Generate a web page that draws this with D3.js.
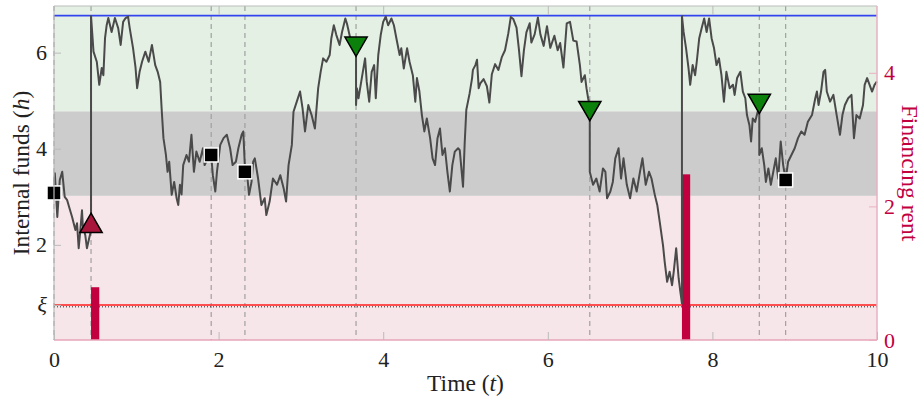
<!DOCTYPE html>
<html>
<head>
<meta charset="utf-8">
<script src="https://cdn.jsdelivr.net/npm/d3@7"></script>
<style>
  body { margin: 0; background: #fff; }
  svg text { font-family: "Liberation Serif", "DejaVu Serif", serif; }
</style>
</head>
<body>
<svg id="chart" width="923" height="402"></svg>
<script>
// simulated internal funds h(t) as [t, h]
const fundsPath = [
  [0,3.10],[0.01,3.49],[0.04,2.58],[0.07,3.35],[0.10,3.52],[0.13,3.00],[0.16,2.93],[0.19,2.75],[0.22,2.58],
  [0.26,2.31],[0.28,2.45],[0.30,1.93],[0.32,2.30],[0.34,2.72],[0.35,2.40],[0.38,2.20],[0.40,1.93],[0.43,2.16],[0.45,2.30],
  [0.45,6.76],[0.48,6.02],[0.52,5.81],[0.55,5.33],[0.58,5.68],[0.60,5.53],[0.62,6.30],[0.64,6.57],[0.66,6.72],
  [0.70,6.43],[0.74,6.72],[0.78,6.51],[0.81,6.16],[0.84,6.64],[0.87,6.72],[0.90,6.75],[0.92,6.51],[0.96,6.10],
  [0.99,5.70],[1.01,5.26],[1.04,5.60],[1.07,5.81],[1.11,6.02],[1.15,5.81],[1.19,6.16],[1.23,5.74],[1.26,5.60],
  [1.29,5.39],[1.31,4.77],[1.33,4.22],[1.36,3.87],[1.38,3.52],[1.40,3.73],[1.43,3.04],[1.46,3.31],[1.49,2.97],
  [1.51,2.83],[1.53,3.25],[1.55,3.05],[1.57,3.66],[1.61,3.87],[1.64,3.73],[1.67,4.29],[1.70,3.52],[1.73,3.94],
  [1.77,3.73],[1.81,4.01],[1.83,3.66],[1.87,3.80],[1.91,3.87],[1.93,3.45],[1.96,3.11],[1.98,3.52],[2.02,4.08],
  [2.06,4.22],[2.10,4.29],[2.14,4.01],[2.17,3.66],[2.21,3.73],[2.24,4.01],[2.28,4.29],[2.30,4.36],[2.32,3.60],
  [2.35,3.40],[2.37,3.04],[2.40,3.31],[2.42,3.73],[2.44,3.80],[2.48,3.38],[2.52,2.83],[2.56,2.97],[2.58,2.62],
  [2.62,2.90],[2.66,3.38],[2.71,3.25],[2.75,3.45],[2.79,3.18],[2.82,2.90],[2.85,3.66],[2.89,4.08],[2.91,4.77],
  [2.95,4.98],[2.99,5.19],[3.02,4.84],[3.05,4.36],[3.09,4.91],[3.13,4.70],[3.17,4.42],[3.21,5.26],[3.24,5.60],
  [3.27,5.88],[3.31,5.81],[3.35,5.95],[3.37,6.30],[3.40,6.57],[3.43,6.37],[3.47,6.16],[3.50,6.43],[3.54,6.71],
  [3.56,6.60],[3.60,6.30],[3.64,6.09],[3.67,5.95],
  [3.67,4.91],[3.68,5.26],[3.70,5.05],[3.74,5.47],[3.78,5.88],[3.80,5.39],[3.83,4.98],[3.86,5.60],[3.89,5.74],
  [3.91,5.05],[3.94,5.95],[3.97,6.37],[4.00,6.64],[4.03,6.75],[4.06,6.57],[4.10,6.71],[4.13,6.57],[4.16,6.30],
  [4.20,5.95],[4.22,6.09],[4.25,5.67],[4.29,6.09],[4.32,5.81],[4.36,5.53],[4.39,4.98],[4.41,5.47],[4.44,5.19],
  [4.47,4.70],[4.50,4.36],[4.53,4.63],[4.57,4.22],[4.60,3.80],[4.63,3.66],[4.66,4.22],[4.69,4.42],[4.72,3.87],
  [4.75,4.01],[4.78,3.52],[4.81,3.11],[4.84,3.66],[4.87,3.94],[4.91,4.01],[4.93,3.97],[4.97,3.21],[4.99,4.11],
  [5.01,4.81],[5.03,4.98],[5.05,5.15],[5.08,5.47],[5.09,5.64],[5.12,5.74],[5.14,5.85],[5.16,5.26],[5.18,5.36],
  [5.22,5.45],[5.26,5.30],[5.29,4.96],[5.32,5.55],[5.36,5.76],[5.40,5.64],[5.44,5.90],[5.48,6.05],[5.52,6.40],
  [5.55,6.74],[5.58,6.70],[5.62,6.52],[5.65,6.05],[5.68,5.51],[5.71,6.05],[5.74,6.42],[5.78,6.61],[5.80,6.21],
  [5.84,6.38],[5.88,6.73],[5.91,6.38],[5.95,6.14],[5.99,6.55],[6.03,6.10],[6.08,6.35],[6.12,6.05],[6.15,6.20],
  [6.19,5.69],[6.23,6.61],[6.27,6.64],[6.31,6.25],[6.35,6.23],[6.39,5.74],[6.41,5.39],[6.45,5.53],[6.47,5.26],
  [6.49,5.05],[6.51,4.88],
  [6.51,3.52],[6.55,3.25],[6.59,3.38],[6.63,3.11],[6.67,3.59],[6.70,3.52],[6.72,2.97],[6.76,3.11],[6.79,3.31],
  [6.82,3.80],[6.86,4.01],[6.89,3.38],[6.92,3.80],[6.96,3.25],[7.00,2.97],[7.04,3.38],[7.08,3.11],[7.12,3.52],
  [7.15,3.80],[7.19,3.25],[7.23,3.52],[7.26,3.38],[7.30,3.04],[7.33,2.83],[7.36,2.48],[7.40,1.99],[7.42,1.65],
  [7.45,1.23],[7.48,1.44],[7.51,1.16],[7.53,1.44],[7.56,1.93],[7.59,1.30],[7.61,1.03],[7.63,0.78],
  [7.63,6.76],[7.65,6.43],[7.68,6.09],[7.71,5.67],[7.73,5.33],[7.76,5.74],[7.79,5.53],[7.81,5.81],[7.84,6.30],
  [7.87,6.51],[7.90,6.71],[7.93,6.43],[7.96,6.71],[7.99,6.30],[8.02,6.09],[8.05,5.74],[8.08,5.88],[8.11,5.53],
  [8.14,4.98],[8.17,5.60],[8.21,5.26],[8.25,5.33],[8.27,5.12],[8.30,5.47],[8.34,5.60],[8.37,5.19],[8.40,5.05],
  [8.42,4.70],[8.45,4.49],[8.47,4.15],[8.49,4.63],[8.52,4.56],[8.55,4.77],[8.57,4.80],
  [8.57,3.87],[8.60,4.01],[8.63,3.66],[8.65,3.31],[8.68,3.59],[8.71,3.25],[8.74,3.52],[8.77,3.80],[8.80,3.38],
  [8.83,4.15],[8.86,3.66],[8.89,3.35],[8.92,3.73],[8.96,3.87],[9.00,4.01],[9.04,4.22],[9.08,4.36],[9.12,4.29],
  [9.16,4.56],[9.21,4.70],[9.25,5.05],[9.27,5.19],[9.29,4.91],[9.32,5.19],[9.35,5.60],[9.37,5.64],[9.39,5.19],
  [9.43,4.98],[9.47,5.12],[9.51,4.70],[9.55,4.29],[9.58,4.70],[9.61,4.91],[9.65,5.05],[9.69,5.12],[9.72,4.22],
  [9.75,4.70],[9.79,4.63],[9.83,4.91],[9.85,5.33],[9.88,5.47],[9.91,5.33],[9.94,5.19],[9.97,5.33],[10,5.40]
];

// thresholds on internal funds
const xi = 0.75;
const xiLower = 0.71;
const lowBand = 3.02;     // pink below, grey above
const highBand = 4.78;    // grey below, green above
const payoutBarrier = 6.77;

// events
const dashedTimes = [0, 0.45, 1.91, 2.32, 3.67, 6.51, 8.57, 8.89];
const squareEvents = [[0, 3.08], [1.91, 3.87], [2.32, 3.52], [8.89, 3.35]];
const upEvents = [[0.45, 2.39]];
const downEvents = [[3.67, 6.19], [6.51, 4.85], [8.57, 5.0]];

// financing rent paid at refinancing
const rentTimes = [0.45, 7.63];
const rentValues = [0.79, 2.48];
const rentWidth = 0.1;

const xTicks = [0, 2, 4, 6, 8, 10];
const hTicks = [2, 4, 6];
const rentTicks = [0, 2, 4];

const svg = d3.select("#chart");
const pl = 54, pr = 877, pt = 6, pb = 340;
const crimson = "#c2003f";

const x = d3.scaleLinear().domain([0, 10]).range([pl, pr]);
const y = d3.scaleLinear().domain([0.02, 6.97]).range([pb, pt]);
const yR = d3.scaleLinear().domain([0, 5]).range([pb, pt]);

// background bands
const bands = [[y.domain()[0], lowBand, "#f6e6ea"], [lowBand, highBand, "#cccccc"], [highBand, y.domain()[1], "#e4f0e4"]];
svg.append("g").selectAll("rect").data(bands).join("rect")
  .attr("x", pl).attr("width", pr - pl)
  .attr("y", d => y(d[1])).attr("height", d => y(d[0]) - y(d[1]))
  .attr("fill", d => d[2]);

// dashed event lines
svg.append("g").selectAll("line").data(dashedTimes).join("line")
  .attr("x1", d => x(d)).attr("x2", d => x(d))
  .attr("y1", pt).attr("y2", pb)
  .attr("stroke", "#a0a0a0").attr("stroke-width", 1.2)
  .attr("stroke-dasharray", "5,4");

// xi lines
svg.append("line")
  .attr("x1", pl).attr("x2", pr).attr("y1", y(xiLower)).attr("y2", y(xiLower))
  .attr("stroke", "#222").attr("stroke-width", 1).attr("stroke-dasharray", "1,2");
svg.append("line")
  .attr("x1", pl).attr("x2", pr).attr("y1", y(xi)).attr("y2", y(xi))
  .attr("stroke", "#ff3535").attr("stroke-width", 2).attr("opacity", 0.85);

// payout barrier
svg.append("line")
  .attr("x1", pl).attr("x2", pr).attr("y1", y(payoutBarrier)).attr("y2", y(payoutBarrier))
  .attr("stroke", "#3344ee").attr("stroke-width", 1.6);

// rent bars
svg.append("g").selectAll("rect").data(rentTimes).join("rect")
  .attr("x", d => x(d)).attr("width", x(rentWidth) - x(0))
  .attr("y", (d, i) => yR(rentValues[i]))
  .attr("height", (d, i) => yR(0) - yR(rentValues[i]))
  .attr("fill", crimson);

// path
const line = d3.line().x(d => x(d[0])).y(d => y(d[1]));
svg.append("path").datum(fundsPath)
  .attr("d", line)
  .attr("fill", "none")
  .attr("stroke", "#4a4a4a")
  .attr("stroke-width", 2)
  .attr("stroke-linejoin", "round");

// markers
svg.append("g").selectAll("rect").data(squareEvents).join("rect")
  .attr("x", d => x(d[0]) - 7).attr("y", d => y(d[1]) - 7)
  .attr("width", 14).attr("height", 14)
  .attr("fill", "#000").attr("stroke", "#fff").attr("stroke-width", 1.5);

const tri = d3.symbol().type(d3.symbolTriangle).size(215);
svg.append("g").selectAll("path").data(upEvents).join("path")
  .attr("d", tri)
  .attr("transform", d => `translate(${x(d[0])},${y(d[1])})`)
  .attr("fill", "#a8173b").attr("stroke", "#000").attr("stroke-width", 1.5);
svg.append("g").selectAll("path").data(downEvents).join("path")
  .attr("d", tri)
  .attr("transform", d => `translate(${x(d[0])},${y(d[1])}) rotate(180)`)
  .attr("fill", "#0b800b").attr("stroke", "#000").attr("stroke-width", 1.5);

// frame
svg.append("line").attr("x1", pl).attr("x2", pr).attr("y1", pt).attr("y2", pt)
  .attr("stroke", "#bbbbbb").attr("stroke-width", 1.2);
svg.append("line").attr("x1", pl).attr("x2", pl).attr("y1", pt).attr("y2", pb)
  .attr("stroke", "#bbbbbb").attr("stroke-width", 1.2);
svg.append("line").attr("x1", pr).attr("x2", pr).attr("y1", pt).attr("y2", pb)
  .attr("stroke", "#eab0c2").attr("stroke-width", 1.5);
svg.append("line").attr("x1", pl).attr("x2", pr).attr("y1", pb).attr("y2", pb)
  .attr("stroke", "#e8a4b8").attr("stroke-width", 1.5);

// axes
const fontSize = "22px";
const gx = svg.append("g").attr("transform", `translate(0,${pb})`)
  .call(d3.axisBottom(x).tickValues(xTicks).tickSize(-8).tickPadding(11).tickFormat(d3.format("d")));
gx.selectAll("line").attr("stroke", "#bbbbbb");
const gxTop = svg.append("g").attr("transform", `translate(0,${pt})`)
  .call(d3.axisTop(x).tickValues(xTicks.slice(1, -1)).tickSize(-9).tickFormat(""));
gxTop.selectAll("line").attr("stroke", "#bbbbbb");

const gy = svg.append("g").attr("transform", `translate(${pl},0)`)
  .call(d3.axisLeft(y).tickValues([xi].concat(hTicks)).tickSize(-7).tickPadding(7)
    .tickFormat(d => d === xi ? "ξ" : d3.format("d")(d)));
gy.selectAll("line").attr("stroke", "#bbbbbb");
gy.selectAll("text").filter(d => d === xi).attr("font-style", "italic");

const gyR = svg.append("g").attr("transform", `translate(${pr},0)`)
  .call(d3.axisRight(yR).tickValues(rentTicks).tickSize(-8).tickPadding(7).tickFormat(d3.format("d")));
gyR.selectAll("line").attr("stroke", "#eab0c2");
gyR.selectAll("text").attr("fill", crimson);

[gx, gxTop, gy, gyR].forEach(g => {
  g.select(".domain").remove();
  g.selectAll("text").style("font-family", "Liberation Serif, serif").style("font-size", fontSize);
});
gx.selectAll("text").attr("fill", "#222");
gy.selectAll("text").attr("fill", "#222");

// axis titles
const titleSize = "23.5px";
const xt = svg.append("text").attr("x", (pl + pr) / 2 + 0).attr("y", 391)
  .attr("text-anchor", "middle").attr("font-size", titleSize).attr("fill", "#222");
xt.append("tspan").text("Time (");
xt.append("tspan").attr("font-style", "italic").text("t");
xt.append("tspan").text(")");

const yt = svg.append("text").attr("transform", `translate(29,${(pt + pb) / 2}) rotate(-90)`)
  .attr("text-anchor", "middle").attr("font-size", titleSize).attr("fill", "#222");
yt.append("tspan").text("Internal funds (");
yt.append("tspan").attr("font-style", "italic").text("h");
yt.append("tspan").text(")");

svg.append("text").attr("transform", `translate(902,${(pt + pb) / 2}) rotate(90)`)
  .attr("text-anchor", "middle").attr("font-size", titleSize).attr("fill", crimson)
  .text("Financing rent");
</script>
</body>
</html>
